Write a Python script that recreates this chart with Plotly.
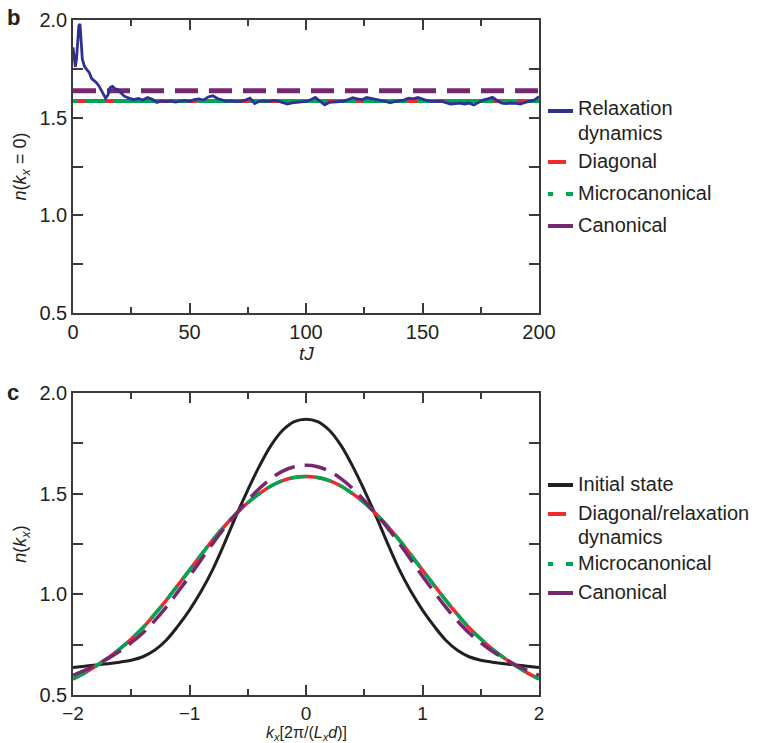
import plotly.graph_objects as go

# ---------------- data: panel b (relaxation vs time) ----------------
t_vals = [0, 0.5, 1, 1.5, 2, 2.5, 3, 3.5, 4, 5, 6, 7, 8, 9, 10, 11, 12, 13, 14, 15,
          16, 17, 18, 19, 20, 22, 24, 26, 28, 30, 32, 34, 36, 38, 40, 42, 44, 46, 48,
          50, 52, 54, 56, 58, 60, 62, 64, 66, 68, 70, 72, 74, 76, 78, 80, 82, 84, 86,
          88, 90, 92, 94, 96, 98, 100, 102, 104, 106, 108, 110, 112, 114, 116, 118,
          120, 122, 124, 126, 128, 130, 132, 134, 136, 138, 140, 142, 144, 146, 148,
          150, 152, 154, 156, 158, 160, 162, 164, 166, 168, 170, 172, 174, 176, 178,
          180, 182, 184, 186, 188, 190, 192, 194, 196, 198, 200]
relax_vals = [1.86, 1.80, 1.76, 1.80, 1.90, 1.97, 1.98, 1.90, 1.80, 1.76, 1.745, 1.73,
              1.70, 1.69, 1.68, 1.665, 1.645, 1.625, 1.60, 1.615, 1.655, 1.66, 1.648,
              1.645, 1.632, 1.610, 1.600, 1.592, 1.598, 1.590, 1.603, 1.594, 1.578,
              1.586, 1.582, 1.586, 1.580, 1.584, 1.588, 1.583, 1.592, 1.596, 1.590,
              1.606, 1.612, 1.598, 1.590, 1.584, 1.586, 1.582, 1.584, 1.590, 1.600,
              1.572, 1.584, 1.586, 1.583, 1.588, 1.585, 1.578, 1.570, 1.576, 1.578,
              1.580, 1.583, 1.592, 1.604, 1.585, 1.566, 1.578, 1.580, 1.585, 1.584,
              1.592, 1.602, 1.596, 1.592, 1.603, 1.598, 1.590, 1.588, 1.584, 1.576,
              1.582, 1.585, 1.590, 1.600, 1.596, 1.603, 1.594, 1.588, 1.582, 1.585,
              1.584, 1.575, 1.570, 1.572, 1.574, 1.570, 1.575, 1.565, 1.578, 1.590,
              1.596, 1.604, 1.588, 1.574, 1.572, 1.575, 1.573, 1.570, 1.578, 1.585,
              1.590, 1.608]
t_range = [0, 200]
diag_level = [1.585, 1.585]
micro_level = [1.585, 1.585]
canon_level = [1.638, 1.638]

# ---------------- data: panel c (momentum distribution) ----------------
k_vals = [-2.0, -1.9, -1.8, -1.7, -1.6, -1.5, -1.4, -1.3, -1.2, -1.1, -1.0, -0.9, -0.8,
          -0.7, -0.6, -0.5, -0.4, -0.3, -0.2, -0.1, 0.0, 0.1, 0.2, 0.3, 0.4, 0.5, 0.6,
          0.7, 0.8, 0.9, 1.0, 1.1, 1.2, 1.3, 1.4, 1.5, 1.6, 1.7, 1.8, 1.9, 2.0]
initial_vals = [0.637, 0.643, 0.649, 0.655, 0.663, 0.673, 0.690, 0.722, 0.772, 0.842,
                0.922, 1.015, 1.124, 1.253, 1.390, 1.518, 1.637, 1.740, 1.815, 1.858,
                1.870, 1.858, 1.815, 1.740, 1.637, 1.518, 1.390, 1.253, 1.124, 1.015,
                0.922, 0.842, 0.772, 0.722, 0.690, 0.673, 0.663, 0.655, 0.649, 0.643,
                0.637]
diagonal_vals = [0.580, 0.610, 0.645, 0.684, 0.728, 0.778, 0.834, 0.900, 0.970, 1.045,
                 1.120, 1.196, 1.270, 1.338, 1.400, 1.455, 1.500, 1.538, 1.565, 1.580,
                 1.585, 1.580, 1.565, 1.538, 1.500, 1.455, 1.400, 1.338, 1.270, 1.196,
                 1.120, 1.045, 0.970, 0.900, 0.834, 0.778, 0.728, 0.684, 0.645, 0.610,
                 0.580]
micro_vals = list(diagonal_vals)
canonical_vals = [0.598, 0.622, 0.649, 0.681, 0.717, 0.760, 0.808, 0.868, 0.936, 1.012,
                  1.090, 1.172, 1.253, 1.330, 1.400, 1.466, 1.526, 1.575, 1.612, 1.634,
                  1.641, 1.634, 1.612, 1.575, 1.526, 1.466, 1.400, 1.330, 1.253, 1.172,
                  1.090, 1.012, 0.936, 0.868, 0.808, 0.760, 0.717, 0.681, 0.649, 0.622,
                  0.598]

legend_b = [["Relaxation", "dynamics"], ["Diagonal"], ["Microcanonical"], ["Canonical"]]
legend_c = [["Initial state"], ["Diagonal/relaxation", "dynamics"], ["Microcanonical"], ["Canonical"]]
xtitle_b = "<i>tJ</i>"
xtitle_c = "<i>k</i><sub><i>x</i></sub>[2\u03c0/(<i>L</i><sub><i>x</i></sub><i>d</i>)]"

# ---------------- styles ----------------
BLUE = "#2E3192"
RED = "#EE2A2F"
GREEN = "#00A651"
PURPLE = "#74286F"
BLACK = "#231F20"
TXT = "#231F20"
AX = "#3a3a3a"
FONT = "Liberation Sans, Arial, Helvetica, sans-serif"

W, H = 761, 743
ML, MR, MT, MB = 73, 222, 20, 48
PW = W - ML - MR
PH = H - MT - MB


def py(y):
    return 1 - (y - MT) / PH


def px(x):
    return (x - ML) / PW


fig = go.Figure()

# panel b
fig.add_trace(go.Scatter(x=t_range, y=diag_level, mode="lines",
                         line=dict(color=RED, width=4), xaxis="x", yaxis="y",
                         showlegend=False))
fig.add_trace(go.Scatter(x=t_range, y=micro_level, mode="lines",
                         line=dict(color=GREEN, width=4,
                                   dash="5px,8px,19px,9px,46px,9px,19px,9px,45px,8px,20px,8px,49px,8px,20px,8px,45px,9px,20px,8px,48px,9px,16px,9px,20px"),
                         xaxis="x", yaxis="y", showlegend=False))
fig.add_trace(go.Scatter(x=t_range, y=canon_level, mode="lines",
                         line=dict(color=PURPLE, width=5, dash="23px,11px"),
                         xaxis="x", yaxis="y", showlegend=False))
fig.add_trace(go.Scatter(x=t_vals, y=relax_vals, mode="lines",
                         line=dict(color=BLUE, width=2.8), xaxis="x", yaxis="y",
                         showlegend=False))

# panel c
fig.add_trace(go.Scatter(x=k_vals, y=initial_vals, mode="lines",
                         line=dict(color=BLACK, width=3, shape="spline"),
                         xaxis="x2", yaxis="y2", showlegend=False))
fig.add_trace(go.Scatter(x=k_vals, y=diagonal_vals, mode="lines",
                         line=dict(color=RED, width=3.5, shape="spline"),
                         xaxis="x2", yaxis="y2", showlegend=False))
fig.add_trace(go.Scatter(x=k_vals, y=micro_vals, mode="lines",
                         line=dict(color=GREEN, width=3.5, dash="16px,9px", shape="spline"),
                         xaxis="x2", yaxis="y2", showlegend=False))
fig.add_trace(go.Scatter(x=k_vals, y=canonical_vals, mode="lines",
                         line=dict(color=PURPLE, width=3.5, dash="22px,10px", shape="spline"),
                         xaxis="x2", yaxis="y2", showlegend=False))

top_dom = [py(313), 1]
bot_dom = [0, py(393)]

axis_common = dict(showline=True, linecolor=AX, linewidth=1.5, mirror="allticks",
                   ticks="inside", ticklen=10, tickwidth=1.5, tickcolor=AX,
                   showgrid=False, zeroline=False, automargin=False)
tf20 = dict(family=FONT, size=20, color=TXT)

fig.update_layout(
    width=W, height=H,
    margin=dict(l=ML, r=MR, t=MT, b=MB, autoexpand=False),
    paper_bgcolor="white", plot_bgcolor="white",
    font=dict(family=FONT, color=TXT),
    xaxis=dict(domain=[0, 1], anchor="y", range=[0, 200], tickvals=[0, 50, 100, 150, 200],
               minor=dict(ticks="inside", ticklen=6, tickwidth=1.5, tickcolor=AX,
                          tickvals=[25, 75, 125, 175]),
               tickfont=tf20, **axis_common),
    yaxis=dict(domain=top_dom, anchor="x", range=[0.5, 2.0],
               tickvals=[0.5, 1.0, 1.5, 2.0], ticktext=["0.5", "1.0", "1.5", "2.0"],
               minor=dict(ticks="inside", ticklen=10, tickwidth=1.5, tickcolor=AX,
                          tickvals=[0.75, 1.25, 1.75]),
               title=dict(text="<i>n</i>(<i>k</i><sub><i>x</i></sub> = 0)",
                          font=dict(family=FONT, size=18, color=TXT), standoff=8),
               tickfont=tf20, **axis_common),
    xaxis2=dict(domain=[0, 1], anchor="y2", range=[-2, 2], tickvals=[-2, -1, 0, 1, 2],
                ticktext=["\u22122", "\u22121", "0", "1", "2"],
                minor=dict(ticks="inside", ticklen=6, tickwidth=1.5, tickcolor=AX,
                           tickvals=[-1.5, -0.5, 0.5, 1.5]),
                tickfont=dict(family=FONT, size=19, color=TXT), **axis_common),
    yaxis2=dict(domain=bot_dom, anchor="x2", range=[0.5, 2.0],
                tickvals=[0.5, 1.0, 1.5, 2.0], ticktext=["0.5", "1.0", "1.5", "2.0"],
                minor=dict(ticks="inside", ticklen=10, tickwidth=1.5, tickcolor=AX,
                           tickvals=[0.75, 1.25, 1.75]),
                title=dict(text="<i>n</i>(<i>k</i><sub><i>x</i></sub>)",
                           font=dict(family=FONT, size=18, color=TXT), standoff=8),
                tickfont=tf20, **axis_common),
)

shapes = []
annos = []

# panel labels
annos.append(dict(x=px(5), y=py(18), xref="paper", yref="paper", text="<b>b</b>",
                  showarrow=False, xanchor="left", yanchor="middle",
                  font=dict(family=FONT, size=22, color=TXT)))
annos.append(dict(x=px(5), y=py(392), xref="paper", yref="paper", text="<b>c</b>",
                  showarrow=False, xanchor="left", yanchor="middle",
                  font=dict(family=FONT, size=22, color=TXT)))

# x-axis titles
annos.append(dict(x=0.5, y=py(353), xref="paper", yref="paper", text=xtitle_b,
                  showarrow=False, xanchor="center", yanchor="middle",
                  font=dict(family=FONT, size=19, color=TXT)))
annos.append(dict(x=0.5, y=py(733), xref="paper", yref="paper", text=xtitle_c,
                  showarrow=False, xanchor="center", yanchor="middle",
                  font=dict(family=FONT, size=16, color=TXT)))

LX0, LX1, TX = 548, 573, 576


def seg(x0, x1, y, color, width=4):
    shapes.append(dict(type="line", xref="paper", yref="paper",
                       x0=px(x0), x1=px(x1), y0=py(y), y1=py(y),
                       line=dict(color=color, width=width)))


def label(text, y):
    annos.append(dict(x=px(TX), y=py(y), xref="paper", yref="paper", text=text,
                      showarrow=False, xanchor="left", yanchor="middle", align="left",
                      font=dict(family=FONT, size=20, color=TXT)))


# legend b
seg(LX0, LX1, 111, BLUE)
label(legend_b[0][0], 108)
label(legend_b[0][1], 133)
seg(LX0, LX0 + 18, 162, RED)
label(legend_b[1][0], 161)
seg(LX0, LX0 + 5, 194, GREEN)
seg(LX0 + 18, LX1, 194, GREEN)
label(legend_b[2][0], 193)
seg(LX0, LX1, 226, PURPLE)
label(legend_b[3][0], 225)

# legend c
seg(LX0, LX1, 485, BLACK)
label(legend_c[0][0], 484)
seg(LX0, LX0 + 18, 514, RED)
label(legend_c[1][0], 513)
label(legend_c[1][1], 537)
seg(LX0, LX0 + 5, 564, GREEN)
seg(LX0 + 18, LX1, 564, GREEN)
label(legend_c[2][0], 563)
seg(LX0, LX1, 593, PURPLE)
label(legend_c[3][0], 592)

fig.update_layout(shapes=shapes, annotations=annos)

fig.write_html("out.html")
